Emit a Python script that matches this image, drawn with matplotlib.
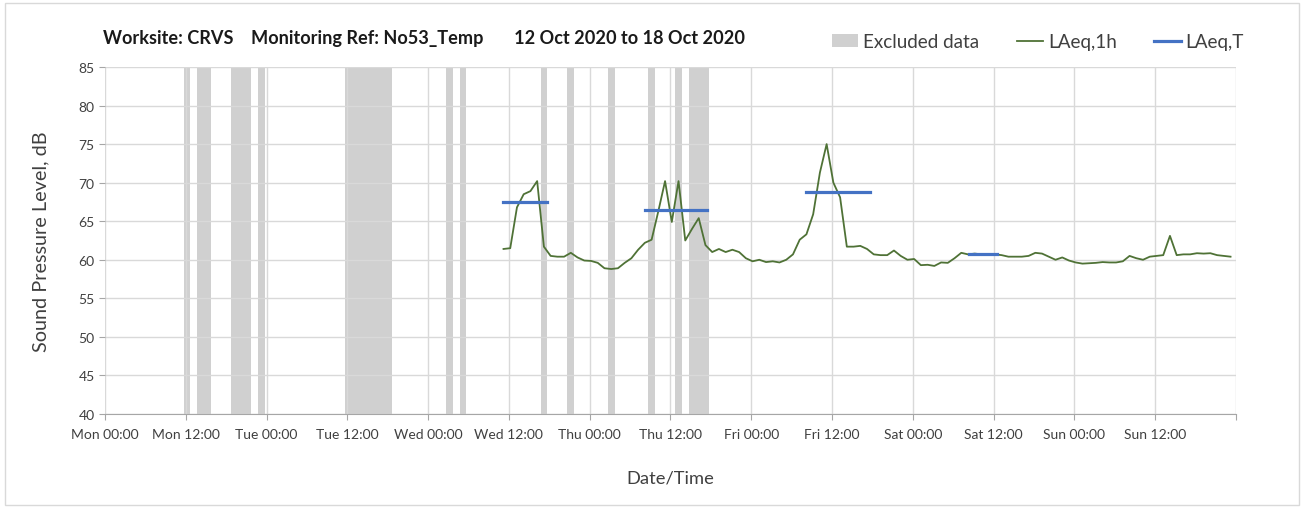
import numpy as np
import matplotlib
matplotlib.use("Agg")
import matplotlib.pyplot as plt
from matplotlib.patches import Patch, Rectangle
from matplotlib.lines import Line2D

plt.rcParams['font.family'] = ['Lato', 'DejaVu Sans']

# hours since Mon 00:00
tick_hours = np.arange(0, 169, 12)
tick_labels = ['Mon 00:00', 'Mon 12:00', 'Tue 00:00', 'Tue 12:00', 'Wed 00:00',
               'Wed 12:00', 'Thu 00:00', 'Thu 12:00', 'Fri 00:00', 'Fri 12:00',
               'Sat 00:00', 'Sat 12:00', 'Sun 00:00', 'Sun 12:00', '']

# excluded periods: start hour, duration (hours)
excl_start = [11.7, 13.7, 18.7, 22.7, 35.7, 50.7, 52.7, 64.7, 68.7, 74.7, 80.7, 84.7, 86.7]
excl_len = [1, 2, 3, 1, 7, 1, 1, 1, 1, 1, 1, 1, 3]

# hourly LAeq,1h starting Wed ~11:00
laeq_start = 59.2
laeq_1h = [61.4, 61.5, 66.8, 68.5, 68.9, 70.2, 61.7, 60.5, 60.4, 60.4,
           60.9, 60.3, 59.9, 59.85, 59.6, 58.9, 58.8, 58.9, 59.6, 60.2,
           61.3, 62.2, 62.6, 66.3, 70.2, 64.9, 70.2, 62.5, 64.0, 65.4,
           61.9, 61.0, 61.4, 61.0, 61.3, 61.0, 60.2, 59.8, 60.0, 59.7,
           59.8, 59.65, 60.0, 60.7, 62.6, 63.3, 65.9, 71.3, 75.0, 70.0,
           68.1, 61.7, 61.7, 61.8, 61.4, 60.7, 60.6, 60.6, 61.2, 60.5,
           60.0, 60.1, 59.3, 59.35, 59.2, 59.65, 59.6, 60.2, 60.9, 60.7,
           60.8, 60.7, 60.7, 60.7, 60.6, 60.4, 60.4, 60.4, 60.5, 60.9,
           60.8, 60.4, 60.0, 60.3, 59.9, 59.65, 59.5, 59.55, 59.6, 59.7,
           59.65, 59.65, 59.8, 60.5, 60.2, 60.0, 60.4, 60.5, 60.6, 63.1,
           60.6, 60.7, 60.7, 60.85, 60.8, 60.85, 60.6, 60.5, 60.4]

# LAeq,T periods
laeqT_from = [59.1, 80.2, 104.2, 128.3]
laeqT_to = [65.7, 89.4, 113.6, 132.5]
laeqT_val = [67.5, 66.4, 68.75, 60.7]

fig = plt.figure(figsize=(13.04, 5.10), dpi=100)
ax = fig.add_axes([0.0805, 0.1863, 0.8673, 0.6804])

for s, w in zip(excl_start, excl_len):
    ax.axvspan(s, s + w, color='#d0d0d0', lw=0, zorder=0)

hrs = laeq_start + np.arange(len(laeq_1h))
ax.plot(hrs, laeq_1h, color='#4f7236', lw=1.3, zorder=3)

for a, b, v in zip(laeqT_from, laeqT_to, laeqT_val):
    ax.plot([a, b], [v, v], color='#4472c4', lw=2.3, zorder=4)

ax.set_xlim(0, 168)
ax.set_ylim(40, 85)
ax.set_yticks(np.arange(40, 86, 5))
ax.set_xticks(tick_hours)
ax.set_xticklabels(tick_labels)
ax.set_axisbelow(True)
ax.grid(True, color='#d9d9d9', lw=1)
for sp in ['top', 'right', 'left']:
    ax.spines[sp].set_visible(False)
ax.spines['bottom'].set_color('#a6a6a6')
ax.tick_params(axis='x', colors='#a6a6a6', labelcolor='#404040', labelsize=10, length=4, pad=6)
ax.tick_params(axis='y', colors='#a6a6a6', labelcolor='#404040', labelsize=10, length=4)

ax.set_ylabel('Sound Pressure Level, dB', fontsize=14.3, color='#404040', labelpad=21)
ax.set_xlabel('Date/Time', fontsize=13.2, color='#404040', labelpad=21)

fig.text(0.079, 0.925, 'Worksite: CRVS    Monitoring Ref: No53_Temp       12 Oct 2020 to 18 Oct 2020',
         fontsize=13.1, fontweight='bold', color='#1a1a1a', va='center')

handles = [Patch(facecolor='#d0d0d0', edgecolor='none'),
           Line2D([], [], color='#4f7236', lw=1.3),
           Line2D([], [], color='#4472c4', lw=2.3)]
fig.legend(handles, ['Excluded data', 'LAeq,1h', 'LAeq,T'], loc='center right',
           bbox_to_anchor=(0.967, 0.916), ncol=3, frameon=False, fontsize=13.6,
           handlelength=1.4, handletextpad=0.25, columnspacing=2.0, labelcolor='#404040')

fig.patches.append(Rectangle((0.004, 0.008), 0.992, 0.984, transform=fig.transFigure,
                             fill=False, edgecolor='#d9d9d9', lw=1))

fig.savefig('out.png', dpi=100)
